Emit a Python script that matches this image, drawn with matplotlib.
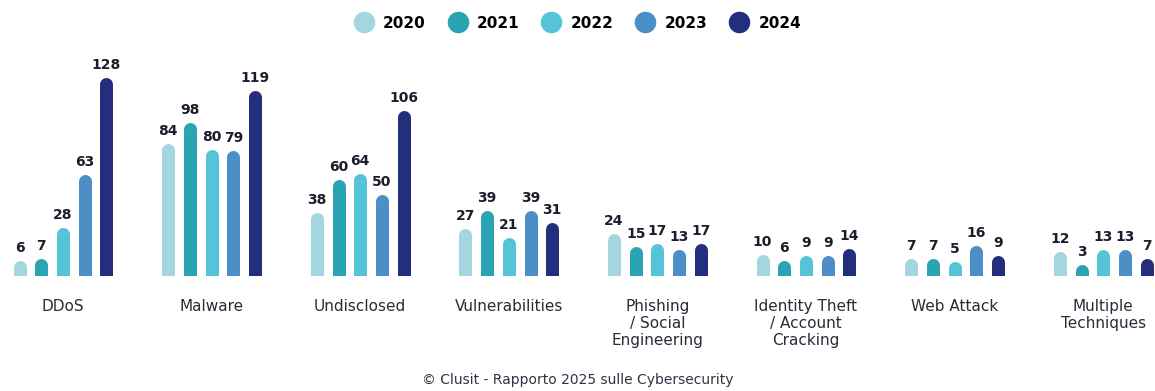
import matplotlib
matplotlib.use("Agg")
import matplotlib.pyplot as plt
from matplotlib.lines import Line2D

categories = ["DDoS", "Malware", "Undisclosed", "Vulnerabilities",
              "Phishing\n/ Social\nEngineering", "Identity Theft\n/ Account\nCracking",
              "Web Attack", "Multiple\nTechniques"]
years = ["2020", "2021", "2022", "2023", "2024"]
v2020 = [6, 84, 38, 27, 24, 10, 7, 12]
v2021 = [7, 98, 60, 39, 15, 6, 7, 3]
v2022 = [28, 80, 64, 21, 17, 9, 5, 13]
v2023 = [63, 79, 50, 39, 13, 9, 16, 13]
v2024 = [128, 119, 106, 31, 17, 14, 9, 7]
series = [v2020, v2021, v2022, v2023, v2024]
colors = ["#a3d6de", "#2aa3b3", "#55c3d8", "#4b8fc6", "#232f7c"]

W, H = 1155, 391
fig = plt.figure(figsize=(W / 100, H / 100), dpi=100)
px_per_unit = 1.5
y0_px = 275.5          # baseline (from top)
top_px = 40
group_px = 148.6
first_px = 63
ax = fig.add_axes([0, (H - y0_px) / H, 1, (y0_px - top_px) / H])
ax.set_ylim(0, (y0_px - top_px) / px_per_unit)
ax.set_xlim(-first_px / group_px, (W - first_px) / group_px)
ax.axis("off")

bar_px = 13
lw_pt = bar_px * 72 / 100
offs = [-2, -1, 0, 1, 2]
step = 21.7 / group_px

for si, (vals, col) in enumerate(zip(series, colors)):
    for ci, v in enumerate(vals):
        x = ci + offs[si] * step
        ax.plot([x, x], [0, v], color=col, lw=lw_pt, solid_capstyle="round")
        ax.annotate(str(v), (x, v), xytext=(0, 8.5), textcoords="offset points",
                    ha="center", va="bottom", fontsize=10, fontweight="bold",
                    color="#1c1c2c")

for ci, cat in enumerate(categories):
    ax.text(ci, -0.1, cat, transform=ax.get_xaxis_transform(), ha="center",
            va="top", fontsize=11, color="#2b2b3a", linespacing=1.15)

handles = [Line2D([], [], marker="o", linestyle="none", markersize=14.5,
                  markerfacecolor=c, markeredgecolor=c) for c in colors]
fig.legend(handles, years, loc="center", bbox_to_anchor=(0.5, 1 - 23 / H),
           ncol=5, frameon=False, prop={"size": 11, "weight": "bold"},
           handlelength=1.3, handletextpad=0.6, columnspacing=1.45)

fig.text(0.5, 1 - 380 / H, "© Clusit - Rapporto 2025 sulle Cybersecurity",
         ha="center", va="center", fontsize=10, color="#333344")

fig.savefig("out.png", dpi=100)
